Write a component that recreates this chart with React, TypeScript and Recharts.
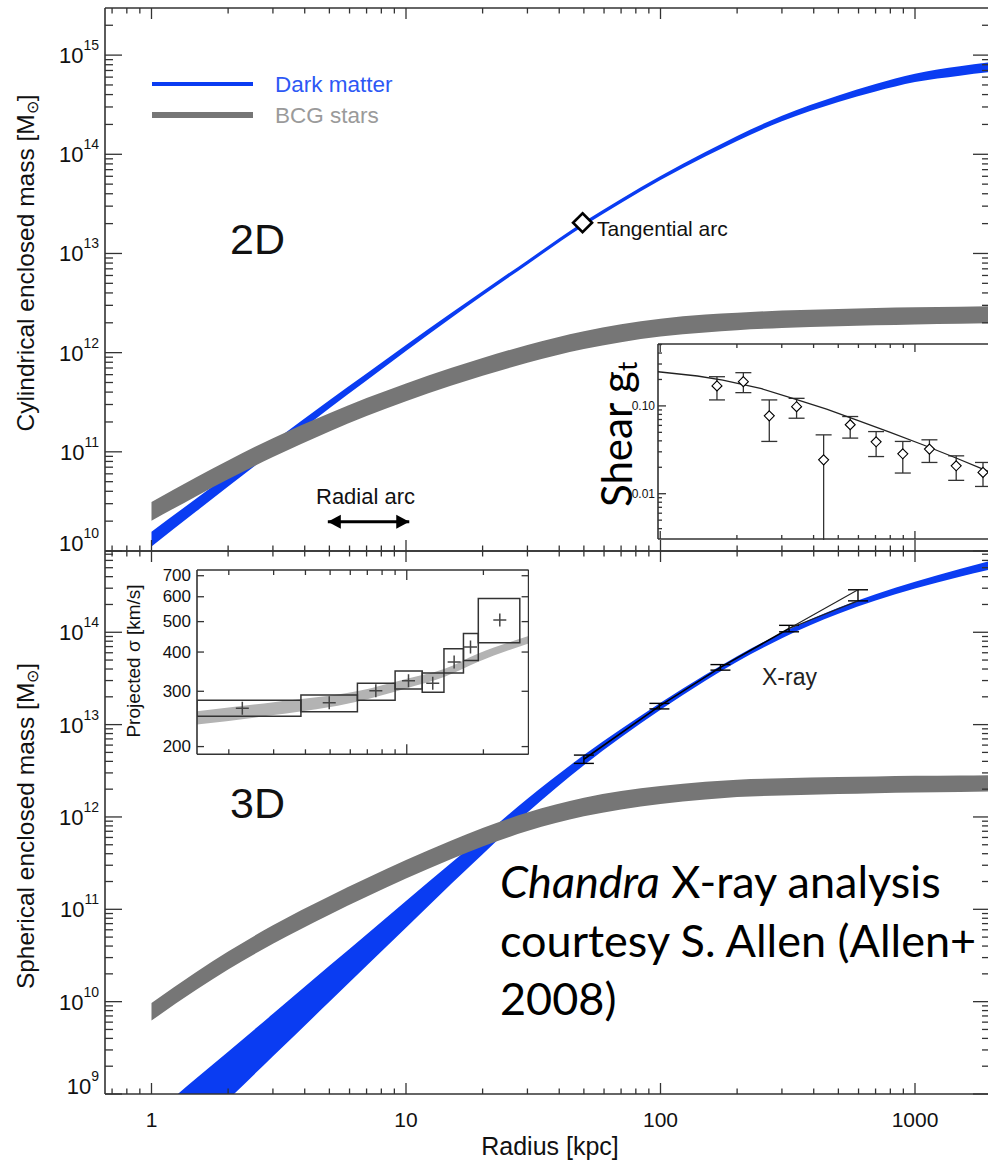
import React from 'react'
import { ComposedChart, Area, Scatter, XAxis, YAxis, ErrorBar, ReferenceArea, CartesianGrid } from 'recharts'

// radius grid [kpc] shared by the mass profiles; masses are log10(M / Msun)
const radii = [1, 1.5, 2, 3, 5, 7, 10, 15, 20, 30, 50, 70, 100, 150, 200, 300, 500, 700, 1000, 1500, 2000]

// 2D - cylindrical enclosed mass
const dm2dHi = [10.195, 10.53, 10.77, 11.1, 11.52, 11.79, 12.076, 12.397, 12.62, 12.93, 13.32, 13.55, 13.78, 14.022, 14.185, 14.388, 14.593, 14.708, 14.813, 14.888, 14.93]
const dm2dLo = [10.045, 10.4, 10.65, 11.0, 11.44, 11.72, 12.016, 12.347, 12.575, 12.89, 13.28, 13.51, 13.74, 13.978, 14.135, 14.333, 14.528, 14.633, 14.728, 14.793, 14.83]
const bcg2dHi = [10.495, 10.743, 10.913, 11.138, 11.39, 11.542, 11.69, 11.845, 11.946, 12.078, 12.216, 12.286, 12.342, 12.384, 12.403, 12.424, 12.441, 12.45, 12.457, 12.464, 12.468]
const bcg2dLo = [10.305, 10.553, 10.723, 10.948, 11.206, 11.36, 11.51, 11.665, 11.766, 11.898, 12.036, 12.106, 12.162, 12.204, 12.227, 12.248, 12.267, 12.276, 12.285, 12.292, 12.296]

// 3D - spherical enclosed mass
const dm3dHi = [8.755, 9.17, 9.458, 9.868, 10.388, 10.728, 11.09, 11.5, 11.786, 12.197, 12.67, 12.952, 13.236, 13.539, 13.741, 13.996, 14.265, 14.413, 14.548, 14.685, 14.778]
const dm3dLo = [8.135, 8.6, 8.938, 9.408, 9.998, 10.388, 10.8, 11.27, 11.596, 12.047, 12.56, 12.862, 13.161, 13.474, 13.681, 13.936, 14.2, 14.343, 14.473, 14.6, 14.683]
const bcg3dHi = [9.985, 10.32, 10.542, 10.827, 11.142, 11.336, 11.533, 11.742, 11.88, 12.047, 12.207, 12.28, 12.335, 12.381, 12.404, 12.418, 12.432, 12.439, 12.445, 12.449, 12.453]
const bcg3dLo = [9.795, 10.128, 10.348, 10.627, 10.942, 11.136, 11.333, 11.542, 11.68, 11.847, 12.007, 12.08, 12.139, 12.189, 12.216, 12.232, 12.248, 12.257, 12.265, 12.271, 12.277]

// arcs (2D panel)
const tangentialArcR = 49.4
const tangentialArcLogM = 13.31
const radialArcR = [4.93, 10.3]
const radialArcLogM = 10.295

// Chandra X-ray profile (3D panel)
const xrayR = [50, 99, 172, 320, 597]
const xrayLogM = [12.625, 13.2, 13.62, 14.04, 14.4]
const xrayErrDex = [0.045, 0.03, 0.03, 0.035, 0.06]

// shear inset
const shearR = [167, 212, 268, 343, 438, 557, 704, 896, 1140, 1452, 1850]
const shearG = [0.169, 0.189, 0.077, 0.098, 0.0243, 0.061, 0.039, 0.0285, 0.0322, 0.0208, 0.0175]
const shearHi = [0.215, 0.239, 0.117, 0.122, 0.0468, 0.0757, 0.051, 0.0394, 0.0411, 0.027, 0.0227]
const shearLo = [0.117, 0.1416, 0.0394, 0.0724, 0.0015, 0.043, 0.0265, 0.0172, 0.0227, 0.0142, 0.0121]
const shearModelR = [98, 140, 176, 250, 341, 450, 588, 800, 1074, 1450, 1971]
const shearModelG = [0.245, 0.219, 0.197, 0.157, 0.119, 0.092, 0.0693, 0.05, 0.0361, 0.0255, 0.0176]

// velocity dispersion inset
const sigmaBinLo = [1.5, 3.84, 6.4, 9.0, 11.5, 14.0, 16.7, 19.1]
const sigmaBinHi = [3.84, 6.4, 9.0, 11.5, 14.0, 16.7, 19.1, 27.8]
const sigmaR = [2.26, 4.96, 7.56, 10.16, 12.65, 15.35, 17.8, 23.2]
const sigmaV = [265, 276, 301, 324, 318, 372, 415, 506]
const sigmaLo = [250, 258, 281, 305, 298, 343, 376, 428]
const sigmaHi = [281, 292, 318, 348, 343, 410, 458, 592]
const sigmaModelR = [1.5, 3, 6.5, 10, 14, 19, 30.1]
const sigmaModelLo = [235, 252, 279, 307, 333, 372, 426]
const sigmaModelHi = [259, 277, 301, 329, 353, 395, 450]

const BLUE = '#0a3cf2'
const GRAY = '#767676'
const AXIS = '#333'
const INK = '#111'
const SANS = '"Liberation Sans", Arial, Helvetica, sans-serif'
const GILL = 'Lato, "Open Sans", sans-serif'

const X_DOMAIN: [number, number] = [0.6566, 1971]
const Y2D: [number, number] = [1e10, 10 ** 15.475]
const Y3D: [number, number] = [1e9, 10 ** 14.88]

function logTicks(min: number, max: number) {
  const out: number[] = []
  for (let e = Math.floor(Math.log10(min)); e <= Math.ceil(Math.log10(max)); e++) {
    for (let k = 1; k <= 9; k++) {
      const v = Number((k * Math.pow(10, e)).toPrecision(6))
      if (v >= min * 0.999 && v <= max * 1.001) out.push(v)
    }
  }
  return out
}
const pow10 = (lo: number, hi: number) => Array.from({ length: hi - lo + 1 }, (_, i) => Math.pow(10, lo + i))

type Side = 'left' | 'right' | 'top' | 'bottom'
interface TickOpts {
  side: Side
  big: number
  small: number
  majors: number[]
  label?: (v: number) => React.ReactNode
  fontSize?: number
  gap?: number
  lift?: number // raise the label of the lowest major tick (keeps it off the x axis)
}

const near = (a: number, b: number) => Math.abs(a - b) <= Math.abs(b) * 1e-6

function makeTick(o: TickOpts) {
  return function TickMark(p: any) {
    const v = p.payload?.value as number
    const major = o.majors.some((m) => near(v, m))
    const len = major ? o.big : o.small
    const { x, y } = p
    let x2 = x
    let y2 = y
    if (o.side === 'left') x2 = x + len
    if (o.side === 'right') x2 = x - len
    if (o.side === 'top') y2 = y + len
    if (o.side === 'bottom') y2 = y - len
    const lab = major && o.label ? o.label(v) : null
    const dy = o.lift && near(v, o.majors[0]) ? -o.lift : 0
    return (
      <g>
        <line x1={x} y1={y} x2={x2} y2={y2} stroke={AXIS} strokeWidth={1.3} />
        {lab != null &&
          (o.side === 'left' ? (
            <text x={x - (o.gap ?? 6)} y={y + dy} textAnchor="end" dominantBaseline="central" fontSize={o.fontSize} fill={INK} fontFamily={SANS}>
              {lab}
            </text>
          ) : (
            <text x={x} y={y + (o.gap ?? 30)} textAnchor="middle" fontSize={o.fontSize} fill={INK} fontFamily={SANS}>
              {lab}
            </text>
          ))}
      </g>
    )
  }
}

const powLabel = (v: number) => (
  <>
    <tspan>10</tspan>
    <tspan dy={-10} fontSize={14}>
      {Math.round(Math.log10(v))}
    </tspan>
  </>
)

const mainData = radii.map((r, i) => ({
  r,
  dm2d: [10 ** dm2dLo[i], 10 ** dm2dHi[i]],
  bcg2d: [10 ** bcg2dLo[i], 10 ** bcg2dHi[i]],
  dm3d: [10 ** dm3dLo[i], 10 ** dm3dHi[i]],
  bcg3d: [10 ** bcg3dLo[i], 10 ** bcg3dHi[i]],
}))

const xrayPts = xrayR.map((r, i) => {
  const m = 10 ** xrayLogM[i]
  const f = 10 ** xrayErrDex[i]
  return { r, m, err: [m - m / f, m * f - m] }
})
const xrayTailHi = [
  { r: xrayR[3], m: 10 ** xrayLogM[3] },
  { r: xrayR[4], m: 10 ** (xrayLogM[4] + xrayErrDex[4]) },
]
const xrayTailLo = [
  { r: xrayR[3], m: 10 ** xrayLogM[3] },
  { r: xrayR[4], m: 10 ** (xrayLogM[4] - xrayErrDex[4]) },
]

const shearPts = shearR.map((r, i) => ({ r, m: shearG[i], err: [shearG[i] - shearLo[i], shearHi[i] - shearG[i]] }))
const shearModel = shearModelR.map((r, i) => ({ r, m: shearModelG[i] }))
const sigmaPts = sigmaR.map((r, i) => ({ r, m: sigmaV[i] }))
const sigmaModel = sigmaModelR.map((r, i) => ({ r, band: [sigmaModelLo[i], sigmaModelHi[i]] }))

const xTicks = logTicks(X_DOMAIN[0], X_DOMAIN[1])
const xMajors = [1, 10, 100, 1000]
const axisLine = { stroke: AXIS, strokeWidth: 1.6 }
const common = { type: 'number' as const, scale: 'log' as const, allowDataOverflow: true, interval: 0 as const, tickLine: false, tickSize: 0, tickMargin: 0, axisLine }

const noShape = () => <g />
const diamond = (s: number, w: number) => (p: any) => (
  <path d={`M${p.cx},${p.cy - s}L${p.cx + s},${p.cy}L${p.cx},${p.cy + s}L${p.cx - s},${p.cy}Z`} fill="#fff" stroke="#000" strokeWidth={w} />
)
const arrowHead = (p: any) => {
  const d = p.payload.r === radialArcR[0] ? 1 : -1
  return <path d={`M${p.cx},${p.cy}L${p.cx + d * 13},${p.cy - 7}L${p.cx + d * 13},${p.cy + 7}Z`} fill="#000" />
}
const plus = (p: any) => (
  <g stroke="#444" strokeWidth={1.5}>
    <line x1={p.cx - 6.5} y1={p.cy} x2={p.cx + 6.5} y2={p.cy} />
    <line x1={p.cx} y1={p.cy - 6.5} x2={p.cx} y2={p.cy + 6.5} />
  </g>
)

export default function App() {
  const y2dTicks = logTicks(Y2D[0], Y2D[1])
  const y3dTicks = logTicks(Y3D[0], Y3D[1])
  const y2dMaj = pow10(10, 15)
  const y3dMaj = pow10(9, 14)
  const xb = { ...common, dataKey: 'r', domain: X_DOMAIN, ticks: xTicks }

  const shearX: [number, number] = [98, 1971]
  const shearY: [number, number] = [0.00305, 0.507]
  const shearXT = logTicks(100, 1971)
  const shearYT = logTicks(0.004, 0.5)
  const sigX: [number, number] = [1.5, 30.1]
  const sigY: [number, number] = [189, 730]
  const sigXT = logTicks(2, 20)
  const sigYT = [200, 300, 400, 500, 600, 700]

  return (
    <div style={{ position: 'absolute', left: 0, top: 0, width: 988, height: 1161, overflow: 'hidden', background: '#fff' }}>
      {/* 2D panel */}
      <div style={{ position: 'absolute', left: 0, top: 0 }}>
        <ComposedChart width={1000} height={575} data={mainData} margin={{ top: 0, right: 0, bottom: 0, left: 0 }}>
          <XAxis xAxisId="x" {...xb} orientation="bottom" height={24} tick={makeTick({ side: 'bottom', big: 11, small: 5.5, majors: xMajors })} />
          <XAxis xAxisId="xt" {...xb} orientation="top" height={8} tick={makeTick({ side: 'top', big: 11, small: 5.5, majors: xMajors })} />
          <YAxis yAxisId="y" {...common} domain={Y2D} ticks={y2dTicks} orientation="left" width={105}
            tick={makeTick({ side: 'left', big: 17, small: 8, majors: y2dMaj, label: powLabel, fontSize: 22, gap: 6, lift: 8 })} />
          <YAxis yAxisId="yr" {...common} domain={Y2D} ticks={y2dTicks} orientation="right" width={10}
            tick={makeTick({ side: 'right', big: 17, small: 8, majors: y2dMaj })} />
          <Area xAxisId="x" yAxisId="y" dataKey="dm2d" type="monotone" fill={BLUE} fillOpacity={1} stroke="none" isAnimationActive={false} />
          <Area xAxisId="x" yAxisId="y" dataKey="bcg2d" type="monotone" fill={GRAY} fillOpacity={1} stroke="none" isAnimationActive={false} />
          <Scatter xAxisId="x" yAxisId="y" dataKey="m" data={radialArcR.map((r) => ({ r, m: 10 ** radialArcLogM }))}
            line={{ stroke: '#000', strokeWidth: 3 }} shape={arrowHead} isAnimationActive={false} />
          <Scatter xAxisId="x" yAxisId="y" dataKey="m" data={[{ r: tangentialArcR, m: 10 ** tangentialArcLogM }]}
            shape={diamond(9.5, 2.6)} isAnimationActive={false} />
        </ComposedChart>
      </div>

      {/* 3D panel */}
      <div style={{ position: 'absolute', left: 0, top: 541 }}>
        <ComposedChart width={1000} height={633} data={mainData} margin={{ top: 0, right: 0, bottom: 0, left: 0 }}>
          <XAxis xAxisId="x" {...xb} orientation="bottom" height={80}
            tick={makeTick({ side: 'bottom', big: 11, small: 5.5, majors: xMajors, label: (v) => String(v), fontSize: 21, gap: 33 })} />
          <XAxis xAxisId="xt" {...xb} orientation="top" height={10} tick={makeTick({ side: 'top', big: 11, small: 5.5, majors: xMajors })} />
          <YAxis yAxisId="y" {...common} domain={Y3D} ticks={y3dTicks} orientation="left" width={105}
            tick={makeTick({ side: 'left', big: 17, small: 8, majors: y3dMaj, label: powLabel, fontSize: 22, gap: 6, lift: 8 })} />
          <YAxis yAxisId="yr" {...common} domain={Y3D} ticks={y3dTicks} orientation="right" width={10}
            tick={makeTick({ side: 'right', big: 17, small: 8, majors: y3dMaj })} />
          <Area xAxisId="x" yAxisId="y" dataKey="dm3d" type="monotone" fill={BLUE} fillOpacity={1} stroke="none" isAnimationActive={false} />
          <Area xAxisId="x" yAxisId="y" dataKey="bcg3d" type="monotone" fill={GRAY} fillOpacity={1} stroke="none" isAnimationActive={false} />
          <Scatter xAxisId="x" yAxisId="y" dataKey="m" data={xrayPts.slice(0, 4)} line={{ stroke: '#000', strokeWidth: 1.6 }}
            shape={noShape} isAnimationActive={false} />
          <Scatter xAxisId="x" yAxisId="y" dataKey="m" data={xrayTailHi} line={{ stroke: '#222', strokeWidth: 1.1 }} shape={noShape} isAnimationActive={false} />
          <Scatter xAxisId="x" yAxisId="y" dataKey="m" data={xrayTailLo} line={{ stroke: '#222', strokeWidth: 1.1 }} shape={noShape} isAnimationActive={false} />
          <Scatter xAxisId="x" yAxisId="y" dataKey="m" data={xrayPts} shape={noShape} isAnimationActive={false}>
            <ErrorBar dataKey="err" direction="y" width={10} stroke="#000" strokeWidth={1.4} />
          </Scatter>
        </ComposedChart>
      </div>

      {/* shear inset */}
      <div style={{ position: 'absolute', left: 618.3, top: 343 }}>
        <ComposedChart width={372} height={197} margin={{ top: 0, right: 0, bottom: 0, left: 0 }}>
          <CartesianGrid xAxisId="x" yAxisId="y" fill="#fff" stroke="transparent" />
          <XAxis xAxisId="x" {...common} dataKey="r" domain={shearX} ticks={shearXT} orientation="bottom" height={1}
            tick={makeTick({ side: 'bottom', big: 8, small: 4, majors: [100, 1000] })} />
          <XAxis xAxisId="xt" {...common} dataKey="r" domain={shearX} ticks={shearXT} orientation="top" height={1}
            tick={makeTick({ side: 'top', big: 8, small: 4, majors: [100, 1000] })} />
          <YAxis yAxisId="y" {...common} domain={shearY} ticks={shearYT} orientation="left" width={40}
            tick={makeTick({ side: 'left', big: 8, small: 4, majors: [0.01, 0.1], label: (v) => v.toFixed(2), fontSize: 12, gap: 3 })} />
          <Scatter xAxisId="x" yAxisId="y" dataKey="m" data={shearModel} line={{ stroke: '#222', strokeWidth: 1.3 }} shape={noShape} isAnimationActive={false} />
          <Scatter xAxisId="x" yAxisId="y" dataKey="m" data={shearPts} shape={diamond(5, 1.1)} isAnimationActive={false}>
            <ErrorBar dataKey="err" direction="y" width={8} stroke="#333" strokeWidth={1.3} />
          </Scatter>
        </ComposedChart>
      </div>

      {/* velocity dispersion inset */}
      <div style={{ position: 'absolute', left: 136.7, top: 558 }}>
        <ComposedChart width={392.6} height={208.3} data={sigmaModel} margin={{ top: 0, right: 0, bottom: 0, left: 0 }}>
          <CartesianGrid xAxisId="x" yAxisId="y" fill="#fff" stroke="transparent" />
          <XAxis xAxisId="x" {...common} dataKey="r" domain={sigX} ticks={sigXT} orientation="bottom" height={12}
            tick={makeTick({ side: 'bottom', big: 10, small: 5, majors: [10] })} />
          <XAxis xAxisId="xt" {...common} dataKey="r" domain={sigX} ticks={sigXT} orientation="top" height={12}
            tick={makeTick({ side: 'top', big: 10, small: 5, majors: [10] })} />
          <YAxis yAxisId="y" {...common} domain={sigY} ticks={sigYT} orientation="left" width={60}
            tick={makeTick({ side: 'left', big: 7, small: 7, majors: sigYT, label: (v) => String(v), fontSize: 17, gap: 6 })} />
          <YAxis yAxisId="yr" {...common} domain={sigY} ticks={sigYT} orientation="right" width={1}
            tick={makeTick({ side: 'right', big: 7, small: 7, majors: sigYT })} />
          <Area xAxisId="x" yAxisId="y" dataKey="band" type="monotone" fill="#b3b3b3" fillOpacity={1} stroke="none" isAnimationActive={false} />
          {sigmaBinLo.map((lo, i) => (
            <ReferenceArea key={i} xAxisId="x" yAxisId="y" x1={lo} x2={sigmaBinHi[i]} y1={sigmaLo[i]} y2={sigmaHi[i]}
              fill="none" stroke="#333" strokeWidth={1.5} ifOverflow="hidden" />
          ))}
          <Scatter xAxisId="x" yAxisId="y" dataKey="m" data={sigmaPts} shape={plus} isAnimationActive={false} />
        </ComposedChart>
      </div>

      {/* annotations */}
      <svg width={988} height={1161} style={{ position: 'absolute', left: 0, top: 0, pointerEvents: 'none' }} fontFamily={SANS}>
        <line x1={152} y1={84} x2={253} y2={84} stroke={BLUE} strokeWidth={4} />
        <text x={275} y={84} dominantBaseline="central" fontSize={22.5} fill="#2d58f5">Dark matter</text>
        <line x1={152} y1={115} x2={253} y2={115} stroke={GRAY} strokeWidth={6} />
        <text x={275} y={115} dominantBaseline="central" fontSize={22.5} fill="#9a9a9a">BCG stars</text>

        <text x={230} y={254} fontSize={43} fill={INK}>2D</text>
        <text x={230} y={818} fontSize={43} fill={INK}>3D</text>
        <text x={597} y={236} fontSize={21} fill={INK}>Tangential arc</text>
        <text x={316} y={504} fontSize={22} fill={INK}>Radial arc</text>
        <text x={762} y={685} fontSize={23} fill="#222">X-ray</text>

        <text transform="translate(34,263) rotate(-90)" textAnchor="middle" fontSize={24.5} fill={INK}>
          Cylindrical enclosed mass [M<tspan fontSize={16} dy={4}>⊙</tspan><tspan dy={-4}>]</tspan>
        </text>
        <text transform="translate(34,826) rotate(-90)" textAnchor="middle" fontSize={24.5} fill={INK}>
          Spherical enclosed mass [M<tspan fontSize={16} dy={4}>⊙</tspan><tspan dy={-4}>]</tspan>
        </text>
        <text x={550} y={1155} textAnchor="middle" fontSize={25} fill={INK}>Radius [kpc]</text>
        <text transform="translate(140,661) rotate(-90)" textAnchor="middle" fontSize={19} fill={INK}>Projected σ [km/s]</text>

        <text transform="translate(632,507) rotate(-90)" fontSize={42} fontFamily={GILL} fill="#000">
          Shear g<tspan fontSize={26} dy={5}>t</tspan>
        </text>

        <g fontFamily={GILL} fontSize={45} fill="#000">
          <text x={500} y={898}>
            <tspan fontStyle="italic">Chandra</tspan> X-ray analysis
          </text>
          <text x={500} y={957}>courtesy S. Allen (Allen+</text>
          <text x={500} y={1015}>2008)</text>
        </g>
      </svg>
    </div>
  )
}
